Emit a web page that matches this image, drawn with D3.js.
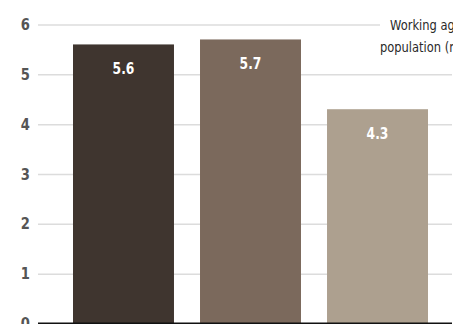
<!DOCTYPE html>
<html>
<head>
<meta charset="utf-8">
<script src="https://cdn.jsdelivr.net/npm/d3@7"></script>
<style>
  body { margin: 0; background: #fff; }
  text { font-family: "DejaVu Sans", sans-serif; }
</style>
</head>
<body>
<script>
// data
var categories = ["Bar 1", "Bar 2", "Bar 3"];
var values = [5.6, 5.7, 4.3];
var colors = ["#3f352f", "#7b695c", "#ada08f"];
var yTicks = [0, 1, 2, 3, 4, 5, 6];

var width = 469, height = 324;
var left = 38, right = 452;
var squeeze = 0.82; // fake a condensed face

var svg = d3.select("body").append("svg")
  .attr("width", width)
  .attr("height", height);

var x = d3.scaleBand()
  .domain(categories)
  .range([60.3, 440.7])
  .paddingInner(0.205)
  .paddingOuter(0.1);

var y = d3.scaleLinear()
  .domain([0, 6])
  .range([323.5, 24.5]);

// gridlines + tick labels
var axis = svg.append("g")
  .attr("transform", "translate(" + left + ",0)")
  .call(d3.axisLeft(y).tickValues(yTicks).tickSize(-(right - left)).tickPadding(8).tickFormat(d3.format("d")));
axis.select(".domain").remove();
axis.selectAll(".tick line")
  .attr("stroke", "#dcdcdc")
  .attr("stroke-width", 1.5)
  .attr("x2", function (d) { return d === 6 ? 342 : right - left; });
axis.selectAll(".tick text")
  .attr("x", null)
  .attr("transform", "translate(-8,0) scale(" + squeeze + ",1)")
  .attr("fill", "#555")
  .attr("font-size", 16)
  .attr("font-weight", "bold");

// bars
svg.selectAll(".bar")
  .data(values)
  .enter().append("rect")
  .attr("class", "bar")
  .attr("x", function (d, i) { return x(categories[i]); })
  .attr("width", x.bandwidth())
  .attr("y", function (d) { return y(d); })
  .attr("height", function (d) { return y(0) - y(d); })
  .attr("fill", function (d, i) { return colors[i]; });

// value labels
svg.selectAll(".val")
  .data(values)
  .enter().append("text")
  .attr("class", "val")
  .attr("transform", function (d, i) {
    return "translate(" + (x(categories[i]) + x.bandwidth() / 2) + "," + (y(d) + 30) + ") scale(" + squeeze + ",1)";
  })
  .attr("text-anchor", "middle")
  .attr("fill", "#fff")
  .attr("font-size", 15)
  .attr("font-weight", "bold")
  .text(function (d) { return d.toFixed(1); });

// baseline
svg.append("line")
  .attr("x1", left).attr("x2", right)
  .attr("y1", y(0)).attr("y2", y(0))
  .attr("stroke", "#111")
  .attr("stroke-width", 2);

// axis title, cut off at right edge
svg.append("clipPath").attr("id", "clip")
  .append("rect").attr("x", 0).attr("y", 0).attr("width", right + 1).attr("height", height);
var title = svg.append("g")
  .attr("clip-path", "url(#clip)")
  .append("text")
  .attr("transform", "translate(380,0) scale(" + squeeze + ",1)")
  .attr("fill", "#2a2a2a")
  .attr("font-size", 14);
title.append("tspan").attr("x", 10 / squeeze).attr("y", 30).text("Working age");
title.append("tspan").attr("x", 0).attr("y", 52).text("population (million)");
</script>
</body>
</html>
